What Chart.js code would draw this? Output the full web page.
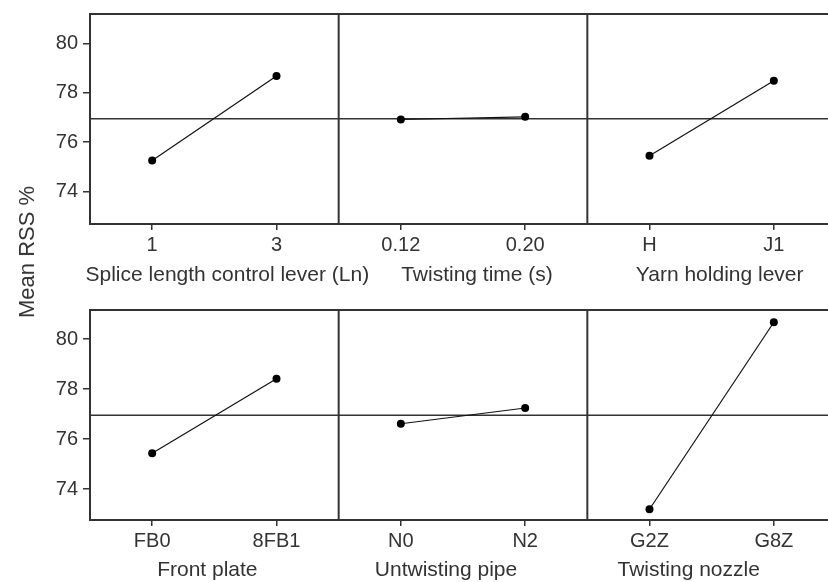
<!DOCTYPE html>
<html><head><meta charset="utf-8">
<script src="https://cdn.jsdelivr.net/npm/chart.js@4"></script>
<style>
html,body{margin:0;padding:0;background:#fff;overflow:hidden;width:828px;height:582px;}
#wrap{position:relative;width:828px;height:582px;overflow:hidden;background:#fff;}
canvas{position:absolute;left:0;}
#ytitle{position:absolute;left:27px;top:252px;transform:translate(-50%,-50%) rotate(-90deg);font:22px "Liberation Sans",Arial,sans-serif;color:#333;white-space:nowrap;}
</style></head><body>
<div id="wrap">
<canvas id="c1" width="840" height="296" style="top:0"></canvas>
<canvas id="c2" width="840" height="286" style="top:296px"></canvas>
<div id="ytitle">Mean RSS %</div>
</div>
<script>
// ---- data ----
const topLevels = ['1', '3', '0.12', '0.20', 'H', 'J1'];
const bottomLevels = ['FB0', '8FB1', 'N0', 'N2', 'G2Z', 'G8Z'];
const topFactors = ['Splice length control lever (Ln)', 'Twisting time (s)', 'Yarn holding lever'];
const bottomFactors = ['Front plate', 'Untwisting pipe', 'Twisting nozzle'];
const spliceLength = [75.26, 78.68];
const twistingTime = [76.92, 77.03];
const yarnHolding = [75.45, 78.49];
const frontPlate = [75.43, 78.41];
const untwistingPipe = [76.61, 77.24];
const twistingNozzle = [73.19, 80.67];
const grandMean = 76.95;
const yTicks = [74, 76, 78, 80];

const FONT = '"Liberation Sans", Arial, sans-serif';
const INK = '#333';

function buildDatasets(series, nLevels) {
  return series.map((vals, k) => {
    const d = new Array(nLevels).fill(null);
    d[2 * k] = vals[0];
    d[2 * k + 1] = vals[1];
    return {
      data: d,
      borderColor: '#111',
      borderWidth: 1.2,
      pointRadius: 4,
      pointBackgroundColor: '#000',
      pointBorderWidth: 0,
      spanGaps: false,
      tension: 0
    };
  });
}

const panelPlugin = {
  id: 'panels',
  beforeDatasetsDraw(chart, args, opts) {
    const { ctx, chartArea: a, scales: { x, y } } = chart;
    ctx.save();
    ctx.strokeStyle = INK;
    ctx.lineWidth = 1.6;
    const ym = y.getPixelForValue(opts.mean);
    ctx.beginPath(); ctx.moveTo(a.left, ym); ctx.lineTo(a.right, ym); ctx.stroke();
    ctx.lineWidth = 2;
    for (let k = 1; k < opts.titles.length; k++) {
      const xp = (x.getPixelForValue(2 * k - 1) + x.getPixelForValue(2 * k)) / 2;
      ctx.beginPath(); ctx.moveTo(xp, a.top); ctx.lineTo(xp, a.bottom); ctx.stroke();
    }
    ctx.beginPath(); ctx.moveTo(a.left - 1, a.top); ctx.lineTo(a.right, a.top); ctx.stroke();
    ctx.restore();
  },
  afterDraw(chart, args, opts) {
    const { ctx, scales: { x } } = chart;
    ctx.save();
    ctx.font = '21px ' + FONT;
    ctx.fillStyle = INK;
    ctx.textAlign = 'center';
    ctx.textBaseline = 'middle';
    opts.titles.forEach((t, k) => {
      const cx = (x.getPixelForValue(2 * k) + x.getPixelForValue(2 * k + 1)) / 2 + opts.titleDx[k];
      ctx.fillText(t, cx, opts.titleY);
    });
    ctx.restore();
  }
};

function makeChart(id, levels, series, titles, yMin, yMax, xHeight, titleY, titleDx) {
  return new Chart(document.getElementById(id), {
    type: 'line',
    data: { labels: levels, datasets: buildDatasets(series, levels.length) },
    options: {
      responsive: false,
      animation: false,
      layout: { padding: { top: 14, right: 4, left: 0, bottom: 0 } },
      plugins: {
        legend: { display: false },
        tooltip: { enabled: false },
        panels: { mean: grandMean, titles: titles, titleY: titleY, titleDx: titleDx }
      },
      scales: {
        x: {
          type: 'category',
          offset: true,
          grid: { display: true, drawOnChartArea: false, drawTicks: true, tickLength: 6, color: INK, lineWidth: 1.5 },
          border: { display: true, color: INK, width: 2 },
          ticks: { color: INK, font: { size: 20, family: FONT }, padding: 3, maxRotation: 0, autoSkip: false },
          afterFit: s => { s.height = xHeight; s.paddingLeft = 0; s.paddingRight = 0; }
        },
        y: {
          min: yMin, max: yMax,
          afterBuildTicks: s => { s.ticks = yTicks.map(v => ({ value: v })); },
          grid: { display: true, drawOnChartArea: false, drawTicks: true, tickLength: 7, color: INK, lineWidth: 1.5 },
          border: { display: true, color: INK, width: 2 },
          ticks: { color: INK, font: { size: 20, family: FONT }, padding: 5 },
          afterFit: s => { s.width = 90; s.paddingTop = 0; s.paddingBottom = 0; }
        }
      }
    },
    plugins: [panelPlugin]
  });
}

makeChart('c1', topLevels, [spliceLength, twistingTime, yarnHolding], topFactors,
  72.69, 81.19, 72, 275, [13, 14, 8]);
makeChart('c2', bottomLevels, [frontPlate, untwistingPipe, twistingNozzle], bottomFactors,
  72.76, 81.16, 62, 274, [-7, -17, -23]);
</script>
</body></html>
